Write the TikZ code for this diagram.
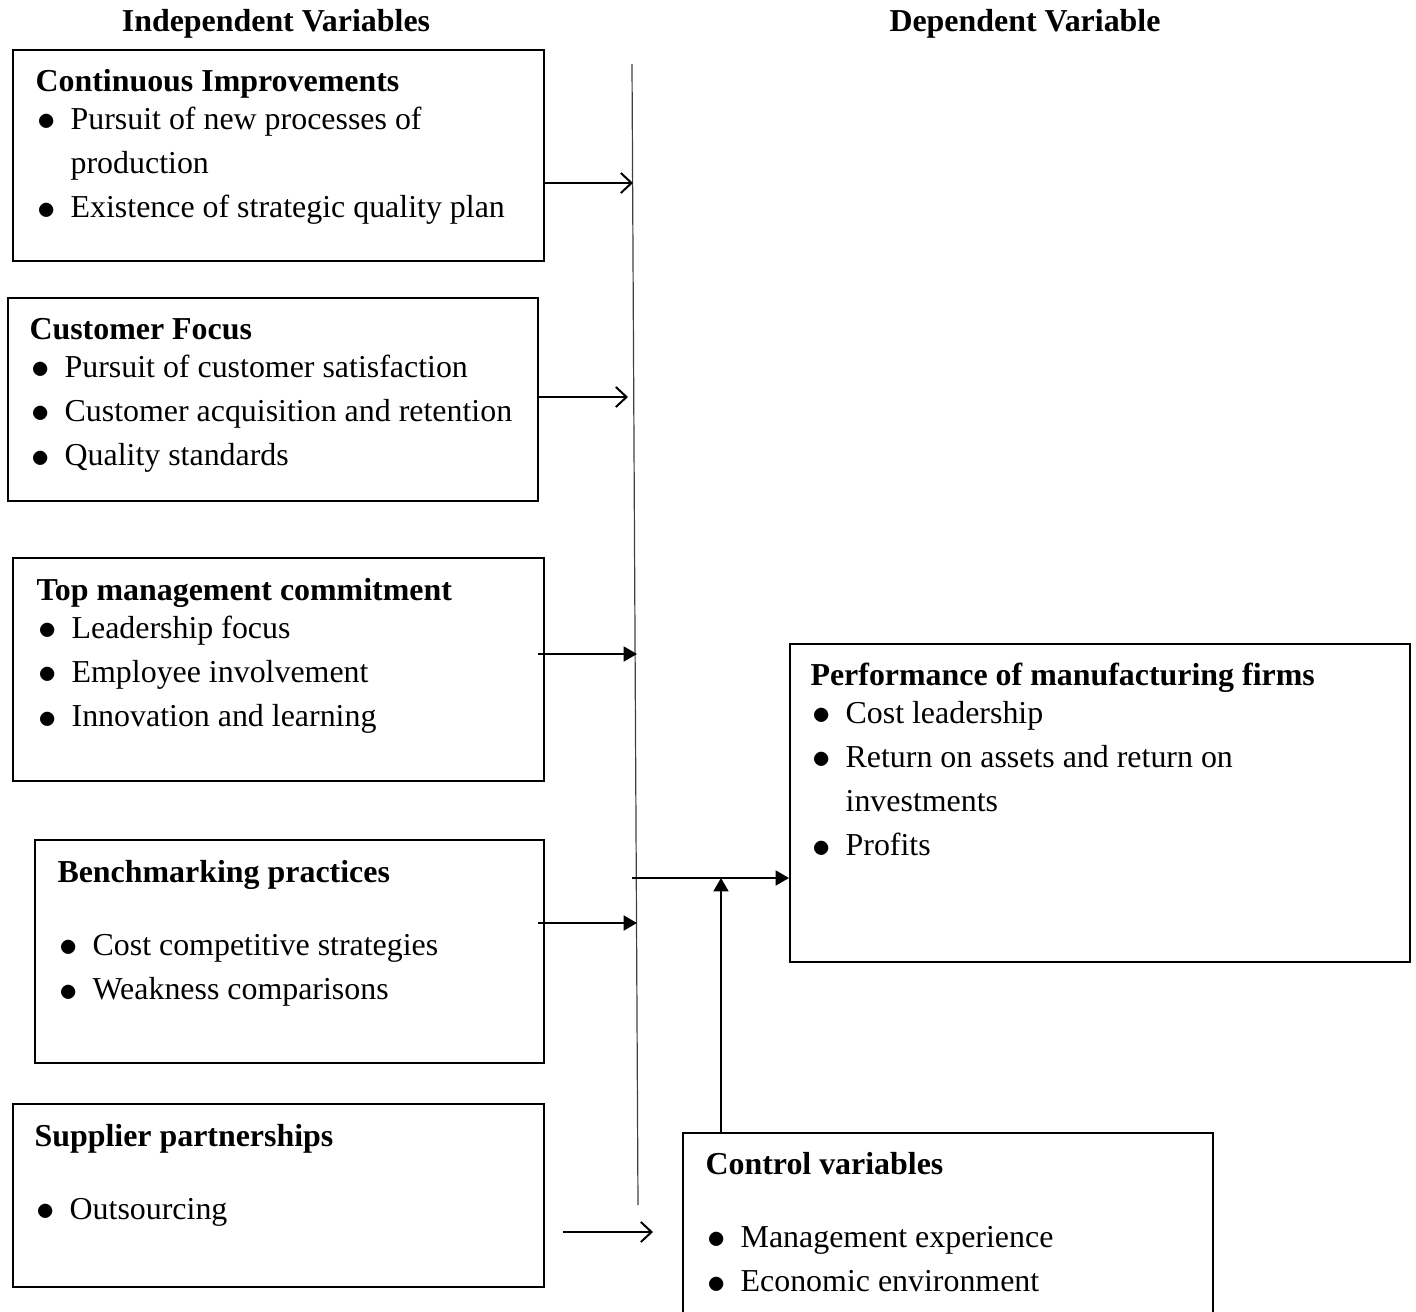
\documentclass[tikz,border=0pt]{standalone}
\usepackage{fontspec}
\setmainfont{Liberation Serif}
\usetikzlibrary{arrows.meta,fit}

\newcommand\bul{\makebox[13.2pt][l]{\hspace{0.6pt}\raisebox{-0.5pt}{\scalebox{1.15}{$\bullet$}}}}
\newcommand\ind{\hspace{13.2pt}}

\begin{document}
\begin{tikzpicture}[x=0.376pt, y=-0.376pt,
    box/.style={draw, line width=0.75pt, inner sep=0pt},
    txt/.style={anchor=north west, inner sep=0pt, align=left, font=\fontsize{12}{16.6}\selectfont},
    hd/.style={anchor=base, inner sep=0pt, font=\fontsize{12}{16.6}\selectfont\bfseries},
    opn/.style={-{Straight Barb[length=4pt,width=7.5pt,line width=0.75pt]}, line width=0.75pt},
    fld/.style={-{Triangle[length=5pt,width=5.6pt]}, line width=0.75pt}
  ]
  \clip (0,0) rectangle (1416,1312);

  % headings
  \node[hd] (iv) at (276,31) {Independent Variables};
  \node[hd] (dv) at (1025,31) {Dependent Variable};

  % independent variables
  \node[box, fit={(13,50) (544,261)}] (ci) {};
  \node[txt] (ci-txt) at (35,60) {\strut\textbf{Continuous Improvements}\\[-2.3pt]
    \bul Pursuit of new processes of\\ \ind production\\ \bul Existence of strategic quality plan};

  \node[box, fit={(8,298) (538,501)}] (cf) {};
  \node[txt] (cf-txt) at (29,308) {\strut\textbf{Customer Focus}\\[-2.3pt]
    \bul Pursuit of customer satisfaction\\ \bul Customer acquisition and retention\\ \bul Quality standards};

  \node[box, fit={(13,558) (544,781)}] (tm) {};
  \node[txt] (tm-txt) at (36,569) {\strut\textbf{Top management commitment}\\[-2.3pt]
    \bul Leadership focus\\ \bul Employee involvement\\ \bul Innovation and learning};

  \node[box, fit={(35,840) (544,1063)}] (bp) {};
  \node[txt] (bp-txt) at (57,851) {\strut\textbf{Benchmarking practices}\\[10.9pt]
    \bul Cost competitive strategies\\ \bul Weakness comparisons};

  \node[box, fit={(13,1104) (544,1287)}] (sp) {};
  \node[txt] (sp-txt) at (34,1115) {\strut\textbf{Supplier partnerships}\\[10.9pt]
    \bul Outsourcing};

  % dependent variable and controls
  \node[box, fit={(790,644) (1410,962)}] (pf) {};
  \node[txt] (pf-txt) at (810,654) {\strut\textbf{Performance of manufacturing firms}\\[-2.3pt]
    \bul Cost leadership\\ \bul Return on assets and return on\\ \ind investments\\ \bul Profits};

  \node[box, fit={(683,1133) (1213,1340)}] (cv) {};
  \node[txt] (cv-txt) at (705,1143) {\strut\textbf{Control variables}\\[10.9pt]
    \bul Management experience\\ \bul Economic environment};

  % collector line
  \coordinate (top) at (632,64);
  \coordinate (bot) at (638,1205);
  \draw[black!75, line width=0.45pt] (top) -- (bot);

  \coordinate (e1) at (633,183);
  \coordinate (e2) at (628,397);
  \coordinate (s3) at (538,654);
  \coordinate (e3) at (637,654);
  \coordinate (s4) at (538,923);
  \coordinate (e4) at (637,923);
  \coordinate (s5) at (563,1232);
  \coordinate (e5) at (653,1232);
  \coordinate (j) at (632,878);
  \coordinate (k) at (721,878);

  \draw[opn] (ci.east |- e1) -- (e1);
  \draw[opn] (cf.east |- e2) -- (e2);
  \draw[fld] (s3) -- (e3);
  \draw[fld] (s4) -- (e4);
  \draw[opn] (s5) -- (e5);
  \draw[fld] (j) -- (pf.west |- j);
  \draw[fld] (cv.north -| k) -- (k);
\end{tikzpicture}
\end{document}
